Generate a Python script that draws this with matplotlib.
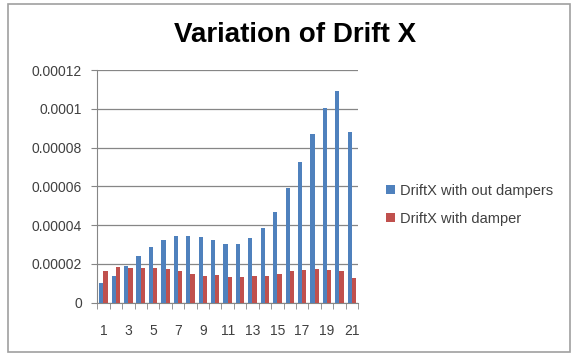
import numpy as np
import matplotlib.pyplot as plt
from matplotlib.patches import Rectangle

plt.rcParams['font.family'] = ['Liberation Sans', 'DejaVu Sans']

# data
storeys = list(range(1, 22))
drift_no_damper = [0.0000100, 0.0000139, 0.0000189, 0.0000240, 0.0000285, 0.0000323, 0.0000344,
                   0.0000344, 0.0000340, 0.0000323, 0.0000302, 0.0000302, 0.0000332, 0.0000383,
                   0.0000469, 0.0000590, 0.0000727, 0.0000870, 0.0001002, 0.0001090, 0.0000880]
drift_damper = [0.0000163, 0.0000182, 0.0000177, 0.0000177, 0.0000177, 0.0000172, 0.0000163,
                0.0000150, 0.0000138, 0.0000143, 0.0000131, 0.0000134, 0.0000139, 0.0000139,
                0.0000146, 0.0000163, 0.0000168, 0.0000174, 0.0000168, 0.0000165, 0.0000126]
yticks = [0, 0.00002, 0.00004, 0.00006, 0.00008, 0.0001, 0.00012]
ytick_labels = ['0', '0.00002', '0.00004', '0.00006', '0.00008', '0.0001', '0.00012']

blue = '#4F81BD'
red = '#C0504D'

fig = plt.figure(figsize=(5.72, 3.54), dpi=100)
ax = fig.add_axes([0.170, 0.145, 0.456, 0.657])

x = np.arange(len(storeys))
w = 0.34
ax.bar(x - w / 2, drift_no_damper, width=w, color=blue, label='DriftX with out dampers', zorder=3)
ax.bar(x + w / 2, drift_damper, width=w, color=red, label='DriftX with damper', zorder=3)

ax.set_xlim(-0.5, len(storeys) - 0.5)
ax.set_ylim(0, 0.00012)
ax.set_yticks(yticks)
ax.set_yticklabels(ytick_labels)
ax.set_xticks(x[::2])
ax.set_xticklabels([str(s) for s in storeys[::2]])
ax.set_xticks(np.arange(-0.5, len(storeys), 1), minor=True)
ax.tick_params(axis='x', which='major', length=0, pad=15, labelsize=10, colors='#404040')
ax.tick_params(axis='x', which='minor', length=4, color='#868686')
ax.tick_params(axis='y', length=4, color='#868686', labelsize=10, colors='#404040', pad=7)
ax.grid(True, axis='y', color='#868686', lw=0.9, zorder=0)
for s in ['top', 'right']:
    ax.spines[s].set_visible(False)
ax.spines['left'].set_color('#868686')
ax.spines['bottom'].set_color('#868686')

fig.text(0.516, 0.900, 'Variation of Drift X', ha='center', va='center',
         fontsize=20, fontweight='bold')

fig.legend(loc='center left', bbox_to_anchor=(0.652, 0.422), frameon=False,
           fontsize=10.5, handlelength=0.6, handleheight=0.6, handletextpad=0.35,
           labelspacing=0.95, labelcolor='#404040')

fig.patches.append(Rectangle((8 / 572, 2 / 354), 562 / 572, 348 / 354, transform=fig.transFigure,
                             fill=False, edgecolor='#A0A0A0', lw=1.2))

fig.savefig('out.png', dpi=100)
